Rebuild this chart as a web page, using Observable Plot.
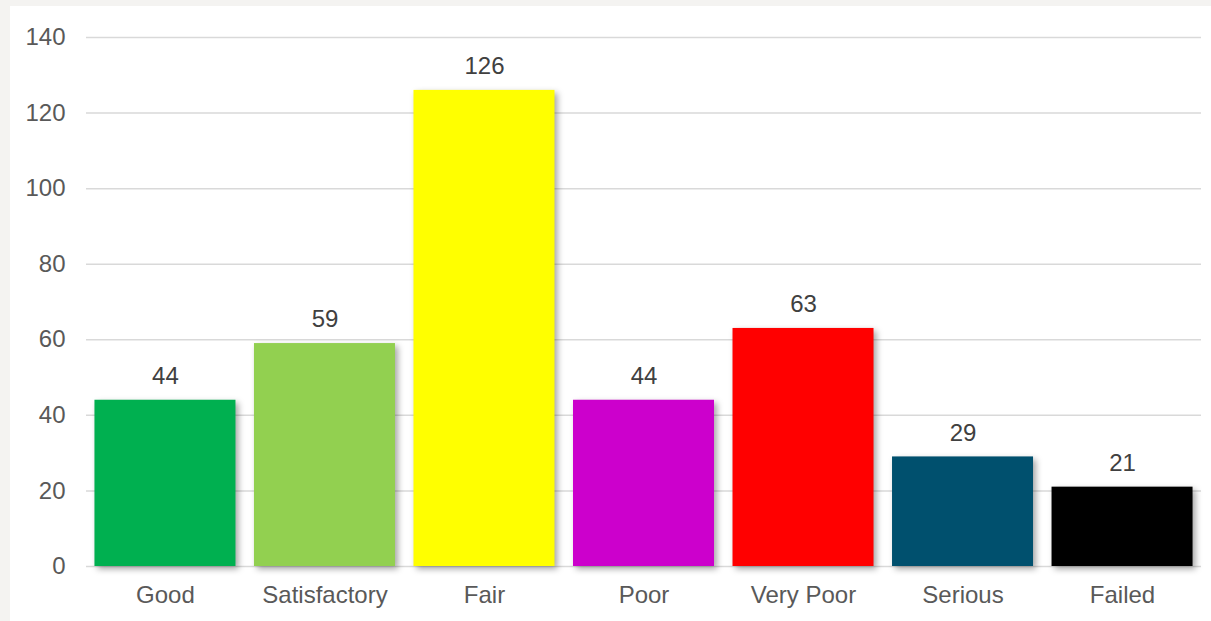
<!DOCTYPE html>
<html>
<head>
<meta charset="utf-8">
<script src="https://cdn.jsdelivr.net/npm/d3@7"></script>
<script src="https://cdn.jsdelivr.net/npm/@observablehq/plot@0.6"></script>
<style>
  html, body { margin: 0; padding: 0; background: #f4f3f1; width: 1211px; height: 621px; overflow: hidden; }
  #panel { position: absolute; left: 10px; top: 6px; width: 1201px; height: 615px; background: #ffffff; }
  .bars rect { filter: drop-shadow(3px 3px 3px rgba(0,0,0,0.35)); }
</style>
</head>
<body>
<div id="panel"></div>
<script>
const categories = ["Good", "Satisfactory", "Fair", "Poor", "Very Poor", "Serious", "Failed"];
const values = [44, 59, 126, 44, 63, 29, 21];
const colors = ["#00B050", "#92D050", "#FFFF00", "#CC00CC", "#FF0000", "#00506E", "#000000"];
const yTicks = [0, 20, 40, 60, 80, 100, 120, 140];

const data = categories.map((c, i) => ({category: c, value: values[i], color: colors[i]}));

const chart = Plot.plot({
  width: 1201,
  height: 615,
  marginLeft: 76,
  marginRight: 10,
  marginTop: 31,
  marginBottom: 55,
  style: {fontFamily: "'Liberation Sans', Arial, sans-serif", fontSize: "24px", color: "#595959", background: "transparent"},
  x: {domain: categories, paddingInner: 0.116, paddingOuter: 0.053, round: false, label: null},
  y: {domain: [0, 140], ticks: yTicks, label: null},
  marks: [
    Plot.ruleY(yTicks, {stroke: "#d9d9d9", strokeWidth: 1.5}),
    Plot.barY(data, {x: "category", y: "value", fill: "color", className: "bars"}),
    Plot.text(data, {x: "category", y: "value", text: d => String(d.value), dy: -24, fill: "#404040", fontSize: 24}),
    Plot.axisY(yTicks, {tickSize: 0, tickPadding: 21, fill: "#595959", fontSize: 24}),
    Plot.axisX({tickSize: 0, tickPadding: 19, fill: "#595959", fontSize: 24})
  ]
});
document.getElementById("panel").appendChild(chart);
</script>
</body>
</html>
